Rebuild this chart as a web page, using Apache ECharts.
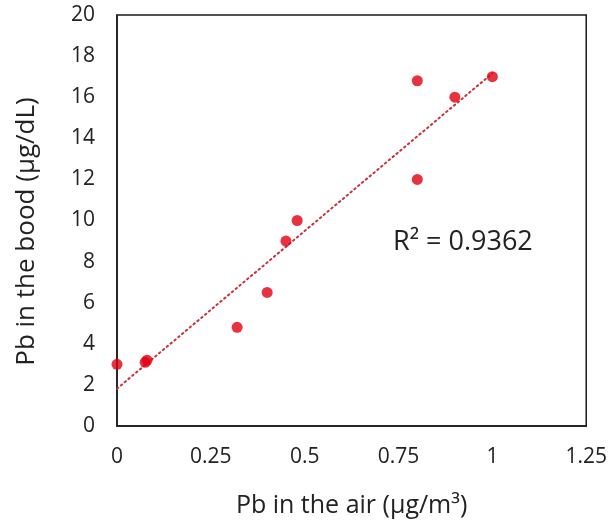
<!DOCTYPE html>
<html>
<head>
<meta charset="utf-8">
<script src="https://cdn.jsdelivr.net/npm/echarts@6/dist/echarts.min.js"></script>
<style>html,body{margin:0;padding:0;background:#fff}#c{width:610px;height:526px}</style>
</head>
<body>
<div id="c"></div>
<script>
// Data
const airPb = [0, 0.075, 0.08, 0.32, 0.4, 0.45, 0.48, 0.8, 0.8, 0.9, 1.0];
const bloodPb = [3.0, 3.1, 3.2, 4.8, 6.5, 9.0, 10.0, 16.8, 12.0, 16.0, 17.0];
const xTicks = [0, 0.25, 0.5, 0.75, 1, 1.25];
const yTicks = [0, 2, 4, 6, 8, 10, 12, 14, 16, 18, 20];
const r2Label = 'R\u00B2 = 0.9362';

const points = airPb.map((x, i) => [x, bloodPb[i]]);

// Linear least-squares trend line computed from the data
const n = airPb.length;
const mx = airPb.reduce((a, b) => a + b, 0) / n;
const my = bloodPb.reduce((a, b) => a + b, 0) / n;
let sxy = 0, sxx = 0;
for (let i = 0; i < n; i++) { sxy += (airPb[i] - mx) * (bloodPb[i] - my); sxx += (airPb[i] - mx) ** 2; }
const slope = sxy / sxx, intercept = my - slope * mx;
const xMin = Math.min(...airPb), xMax = Math.max(...airPb);
const trend = [[xMin, intercept + slope * xMin], [xMax, intercept + slope * xMax]];

const font = '"Open Sans", "Noto Sans", sans-serif';
const chart = echarts.init(document.getElementById('c'), null, {renderer: 'canvas'});
chart.setOption({
  animation: false,
  backgroundColor: '#fff',
  grid: {left: 117, right: 22, top: 15, bottom: 100, show: true, borderColor: '#1a1a1a', borderWidth: 1.5, backgroundColor: 'transparent'},
  xAxis: {
    type: 'value', min: xTicks[0], max: xTicks[xTicks.length - 1], interval: 0.25,
    name: 'Pb in the air (\u00B5g/m\u00B3)', nameLocation: 'middle', nameGap: 67,
    nameTextStyle: {fontFamily: font, fontSize: 25, color: '#222'},
    axisLine: {show: true, lineStyle: {color: '#1a1a1a', width: 1.5}},
    axisTick: {show: false},
    splitLine: {show: false},
    axisLabel: {fontFamily: font, fontSize: 21, color: '#222', margin: 21}
  },
  yAxis: {
    type: 'value', min: yTicks[0], max: yTicks[yTicks.length - 1], interval: 2,
    name: 'Pb in the bood (\u00B5g/dL)', nameLocation: 'middle', nameGap: 77, nameRotate: 90,
    nameTextStyle: {fontFamily: font, fontSize: 26, color: '#222', padding: [0, 22, 0, 0]},
    axisLine: {show: true, lineStyle: {color: '#1a1a1a', width: 1.5}},
    axisTick: {show: false},
    splitLine: {show: false},
    axisLabel: {fontFamily: font, fontSize: 21, color: '#222', margin: 22}
  },
  series: [
    {
      type: 'line', data: trend, symbol: 'none', silent: true,
      lineStyle: {color: '#c8323a', width: 2, type: [1.5, 3.5], cap: 'round'},
      z: 2
    },
    {
      type: 'scatter', data: points, symbolSize: 11,
      itemStyle: {color: '#e10010'},
      z: 3
    }
  ],
  graphic: [{
    type: 'text', left: 393, top: 229,
    style: {text: r2Label, fontFamily: font, fontSize: 27, fill: '#222'}
  }]
});
</script>
</body>
</html>
